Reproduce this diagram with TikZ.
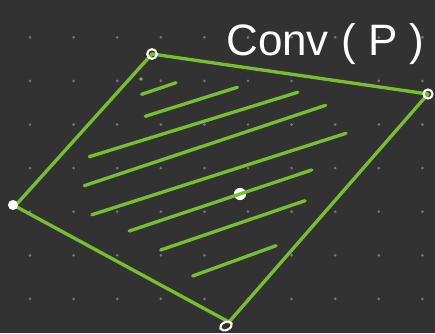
\documentclass[tikz,border=0pt]{standalone}
\usepackage{fontspec}
\setmainfont{Liberation Sans}
\definecolor{board}{HTML}{323232}
\definecolor{chalkgreen}{HTML}{79BE2F}
\definecolor{griddot}{HTML}{767676}
\tikzset{
  edge/.style={chalkgreen, line width=2.5pt, line cap=round, line join=round},
  hatch/.style={chalkgreen, line width=2.5pt, line cap=round},
  ring/.style={draw=white, line width=1.6pt},
}
\begin{document}
\begin{tikzpicture}[x=0.75pt,y=-0.75pt]
\fill[board] (0,0) rectangle (435,333);
\useasboundingbox (0,0) rectangle (435,333);
\foreach \i in {0,...,9}
  \foreach \j in {0,...,6}
    \fill[griddot] (30+43.6*\i,37.3+43.6*\j) circle (1.1pt);
\coordinate (top) at (152,54);
\coordinate (right) at (428,94);
\coordinate (bottom) at (229,322);
\coordinate (left) at (15,206);
\coordinate (inner) at (240,194);
\fill[white] (inner) circle (4.6pt);
\draw[edge] (top) -- (right) -- (bottom) -- (left) -- cycle;
\foreach \xa/\ya/\xb/\yb in {141.7/94.3/176/82.7, 145.3/116.3/237.3/87.3,
    89.3/156.7/297.7/92.3, 84.3/185.7/325.7/105.3, 92/214.7/346/133.3,
    129.3/231/311.7/170, 160.7/250/305/200.7, 192.7/276/276/245.7}
  \draw[hatch] (\xa,\ya) -- (\xb,\yb);
\fill[chalkgreen] (141,79) circle (1.4pt);
\draw[ring] (top) circle (3.6pt);
\draw[ring] (right) circle (3.4pt);
\draw[ring, rotate around={25:(226,326)}] (226,326) ellipse (4.6pt and 3pt);
\fill[white] (13,205) circle (3.8pt);
\node[white, font=\fontsize{33}{33}\selectfont, anchor=base west, inner sep=0pt] (title) at (226,55) {Conv ( P )};
\end{tikzpicture}
\end{document}
